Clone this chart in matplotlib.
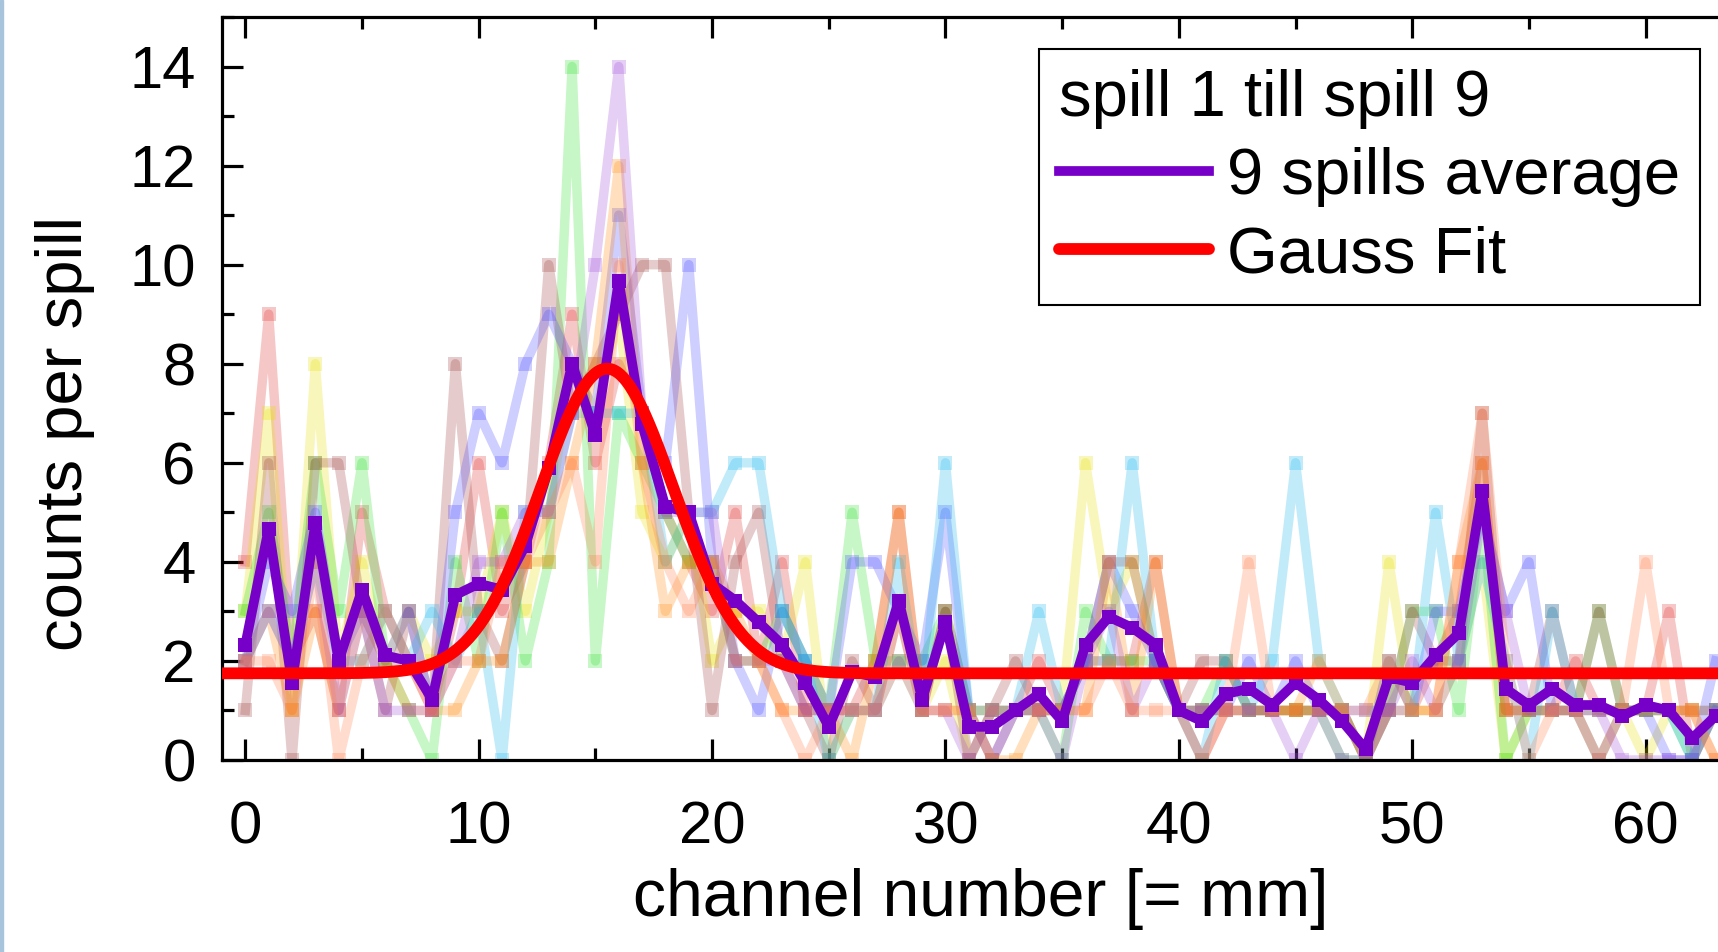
import numpy as np
import matplotlib
matplotlib.use('Agg')
import matplotlib.pyplot as plt
from matplotlib.ticker import MultipleLocator
from matplotlib.lines import Line2D
from matplotlib.patches import Rectangle

plt.rcParams['font.family'] = ['Liberation Sans', 'DejaVu Sans']

channels = list(range(64))

spill_red    = [4,9,2,3,1,5,3,2,1,3, 6,3,4,6,9,6,8,7,5,4, 3,5,2,4,1,1,1,2,5,1, 3,1,0,1,2,1,2,2,2,4, 1,0,1,1,1,1,1,1,0,2, 1,2,3,6,1,1,1,2,1,1, 1,3,0,1]
spill_yellow = [3,7,1,8,2,4,2,3,2,3, 3,5,3,5,8,7,9,5,4,5, 2,3,3,2,4,0,1,1,2,1, 2,0,1,1,1,1,6,3,4,2, 1,1,1,1,1,1,1,1,0,4, 1,1,2,4,0,1,1,1,0,1, 0,1,1,1]
spill_green  = [3,5,2,6,3,6,2,1,0,4, 2,5,2,4,14,2,7,6,5,4, 4,2,2,3,2,1,5,2,2,2, 3,1,1,1,1,0,3,2,2,2, 1,1,2,1,1,1,1,0,0,1, 3,3,1,5,0,1,1,1,3,1, 1,1,0,1]
spill_brown  = [1,6,0,6,6,3,1,3,1,8, 3,2,4,10,7,8,9,10,10,5, 1,4,5,2,1,0,2,1,3,1, 3,0,1,2,1,1,2,4,4,2, 1,2,2,1,1,1,1,1,0,1, 3,2,2,7,1,1,3,1,3,1, 1,1,1,1]
spill_blue   = [2,4,3,5,2,3,2,3,1,5, 7,6,8,9,8,7,11,7,6,10, 4,2,1,3,2,1,4,4,3,2, 5,1,0,1,1,1,2,4,3,2, 1,1,1,2,1,2,1,1,1,1, 1,3,3,5,3,4,1,1,0,1, 1,0,0,2]
spill_cyan   = [2,3,2,4,2,2,3,2,3,2, 3,0,5,5,7,7,7,7,4,5, 5,6,6,3,2,0,1,1,4,1, 6,1,1,1,3,1,2,2,6,2, 1,0,2,1,2,6,2,1,0,2, 1,5,2,4,2,0,3,1,1,1, 1,1,0,1]
spill_orange = [2,3,1,3,1,3,2,1,1,1, 2,2,4,4,6,8,12,6,3,4, 4,3,2,1,1,1,0,2,5,1, 1,1,0,0,1,1,1,4,1,4, 1,1,1,1,1,1,2,1,0,1, 1,1,4,6,1,1,1,1,1,1, 1,1,1,0]
spill_lilac  = [2,3,2,4,1,3,1,1,1,2, 4,4,5,5,7,10,14,7,5,5, 5,2,2,2,1,1,1,1,2,1, 1,0,1,1,1,0,2,3,1,2, 1,1,1,1,1,0,1,0,0,1, 2,1,2,5,3,1,1,1,1,0, 0,0,0,1]
spill_salmon = [2,2,1,4,0,2,3,2,1,2, 2,4,4,5,6,4,10,6,4,3, 4,2,2,1,0,1,1,1,3,1, 1,1,1,1,1,1,1,2,1,1, 1,0,1,4,1,1,1,1,1,2, 1,1,4,7,2,0,1,1,0,1, 4,1,1,0]

average = [2.33,4.67,1.56,4.78,2.00,3.44,2.11,2.00,1.22,3.33,
           3.56,3.44,4.33,5.89,8.00,6.56,9.67,6.78,5.11,5.00,
           3.56,3.22,2.78,2.33,1.56,0.67,1.78,1.67,3.22,1.22,
           2.78,0.67,0.67,1.00,1.33,0.78,2.33,2.89,2.67,2.33,
           1.00,0.78,1.33,1.44,1.11,1.56,1.22,0.78,0.22,1.67,
           1.56,2.11,2.56,5.44,1.44,1.11,1.44,1.11,1.11,0.89,
           1.11,1.00,0.44,0.89]

# Gauss fit parameters
gauss_y0 = 1.75
gauss_xc = 15.5
gauss_sigma = 2.85
gauss_A = 6.15

spills = [spill_red, spill_yellow, spill_green, spill_brown, spill_blue,
          spill_cyan, spill_orange, spill_lilac, spill_salmon]
spill_colors = ['#e03030', '#e8e000', '#30e030', '#a04040', '#4a4aff',
                '#20b8f0', '#ff8c10', '#a050d8', '#ff7f4a']

W, H = 1718, 952
fig = plt.figure(figsize=(W/100, H/100), dpi=100)
fig.patch.set_facecolor('white')
ax = fig.add_axes([222/W, 1-760/H, (1739-222)/W, (760-17)/H])

for vals, col in zip(spills, spill_colors):
    ax.plot(channels, vals, color=col, alpha=0.27, lw=6.8, marker='s',
            markersize=10, markeredgewidth=0, zorder=2)

purple = '#7700c8'
ax.plot(channels, average, color=purple, lw=7, marker='s', markersize=9.5,
        markeredgewidth=0, zorder=3)

xf = np.linspace(-1, 64, 800)
yf = gauss_y0 + gauss_A*np.exp(-(xf-gauss_xc)**2/(2*gauss_sigma**2))
ax.plot(xf, yf, color='#ff0000', lw=8.5, zorder=4, solid_capstyle='round')

ax.set_xlim(-1, 64)
ax.set_ylim(0, 15)
ax.xaxis.set_major_locator(MultipleLocator(10))
ax.xaxis.set_minor_locator(MultipleLocator(5))
ax.yaxis.set_major_locator(MultipleLocator(2))
ax.yaxis.set_minor_locator(MultipleLocator(1))
ax.set_yticks([0, 2, 4, 6, 8, 10, 12, 14])
ax.tick_params(which='both', direction='in', top=True, right=True, width=2.3)
ax.tick_params(which='major', length=15)
ax.tick_params(which='minor', length=8.5)
ax.tick_params(axis='x', which='major', labelsize=43, pad=29)
ax.tick_params(axis='y', which='major', labelsize=43, pad=19)
for sp in ax.spines.values():
    sp.set_linewidth(2.3)

ax.set_xlabel('channel number [= mm]', fontsize=47.5)
ax.set_ylabel('counts per spill', fontsize=47)
ax.xaxis.set_label_coords(0.5, -0.145)
ax.yaxis.set_label_coords(-0.084, 0.44)

h1 = Line2D([], [], color=purple, lw=7, marker='s', markersize=6, markeredgewidth=0)
h2 = Line2D([], [], color='#ff0000', lw=8.5, solid_capstyle='round')
leg = ax.legend([h1, h2], ['9 spills average', 'Gauss Fit'],
                title='spill 1 till spill 9', title_fontsize=47, fontsize=47,
                loc='upper left', bbox_to_anchor=(1039/W, 1-49/H),
                bbox_transform=fig.transFigure, borderaxespad=0,
                frameon=True, fancybox=False, shadow=False, framealpha=1,
                edgecolor='black', handlelength=2.3, handletextpad=0.28,
                borderpad=0.3, labelspacing=0.28, numpoints=1, alignment='left')
leg.get_frame().set_linewidth(1.5)
leg.set_zorder(10)

fig.patches.append(Rectangle((0, 0), 3/W, 1, transform=fig.transFigure,
                             color='#a8c4dc', zorder=0))

fig.savefig('out.png', dpi=100)
